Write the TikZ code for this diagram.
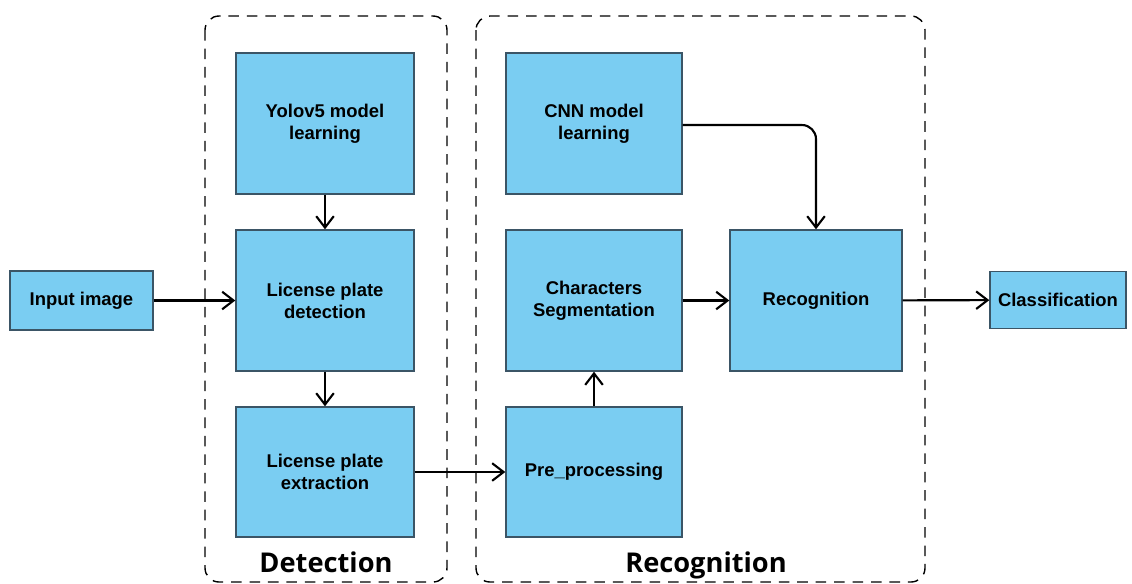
\documentclass[tikz,border=0pt]{standalone}
\usepackage{fontspec}
\setmainfont{Liberation Sans}
\newfontfamily\titlefont{Open Sans}
\usetikzlibrary{arrows.meta}
\usetikzlibrary{positioning}
\definecolor{boxblue}{HTML}{7ACDF2}
\definecolor{boxline}{HTML}{3B5566}
\tikzset{
  block/.style={draw=boxline, fill=boxblue, line width=0.8pt, align=center,
    font=\fontsize{10.5}{12.5}\selectfont\bfseries, inner sep=0pt},
  frame/.style={draw, dashed, dash pattern=on 6pt off 4.5pt, line width=0.8pt, rounded corners=8pt},
  title/.style={font=\titlefont\fontsize{15.5}{19}\selectfont\bfseries, anchor=base}
}

\begin{document}
\begin{tikzpicture}[x=0.02cm, y=-0.02cm, line width=1.2pt, >={Straight Barb[length=6.5pt,width=10pt]}]
    \useasboundingbox (0,0) rectangle (1132,583);
    % stage frames
    \draw[frame] (205,16) rectangle (447,582);
    \draw[frame] (476,16) rectangle (925,582);
    \node[title] (dettitle) at (326,572) {Detection};
    \node[title] (rectitle) at (706,572) {Recognition};

    \node[block, minimum width=143*0.02cm, minimum height=59*0.02cm] (input) at (81.5,300.5) {Input image};
    \node[block, minimum width=178*0.02cm, minimum height=141*0.02cm] (yolo) at (325,123.5) {Yolov5 model\\learning};
    \node[block, minimum width=178*0.02cm, minimum height=141*0.02cm] (detect) at (325,300.5) {License plate\\detection};
    \node[block, minimum width=178*0.02cm, minimum height=130*0.02cm] (extract) at (325,472) {License plate\\extraction};
    \node[block, minimum width=176*0.02cm, minimum height=141*0.02cm] (cnn) at (594,123.5) {CNN model\\learning};
    \node[block, minimum width=176*0.02cm, minimum height=141*0.02cm] (segment) at (594,300.5) {Characters\\Segmentation};
    \node[block, minimum width=176*0.02cm, minimum height=130*0.02cm] (preproc) at (594,472) {Pre\_processing};
    \node[block, minimum width=172*0.02cm, minimum height=141*0.02cm] (recog) at (816,300.5) {Recognition};
    \node[block, minimum width=136*0.02cm, minimum height=57*0.02cm] (classif) at (1058,300) {Classification};

    \draw[->] (input) -- (detect);
    \draw[->] (yolo) -- (detect);
    \draw[->] (detect) -- (extract);
    \draw[->] (extract) -- (preproc);
    \draw[->] (preproc) -- (segment);
    \draw[->] (segment) -- (recog);
    \draw[->, rounded corners=8pt] (cnn.east |- 0,125) -| (recog.north);
    \draw[->] (recog) -- (classif);
\end{tikzpicture}
\end{document}
